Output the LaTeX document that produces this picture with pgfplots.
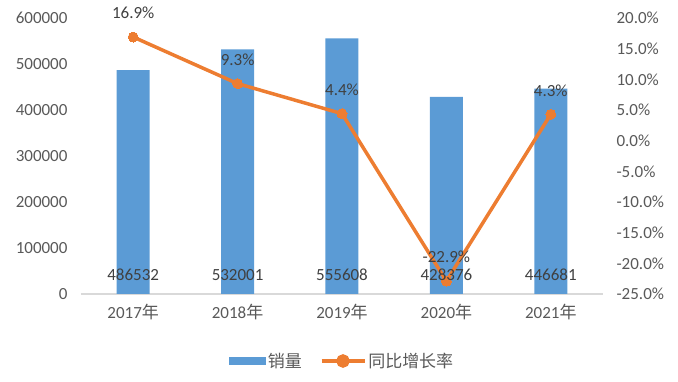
\documentclass[border=0pt]{standalone}
\usepackage{pgfplots}
\pgfplotsset{compat=1.18}
\usepackage{fontspec}
\setmainfont{Carlito}
\newfontfamily\cjk{Noto Sans CJK SC}
\definecolor{barblue}{HTML}{5B9BD5}
\definecolor{lineorange}{HTML}{ED7D31}
\definecolor{ticktext}{HTML}{595959}
\definecolor{labeltext}{HTML}{404040}
\definecolor{axisgray}{HTML}{D9D9D9}
\begin{document}
\begin{tikzpicture}
\useasboundingbox (0,0) rectangle (678pt,382pt);
\pgfplotsset{
  base/.style={
    at={(81pt,88pt)}, anchor=south west,
    scale only axis, width=522pt, height=276pt,
    xmin=-0.5, xmax=4.5,
    xtick=data,
    major tick length=0pt,
    /pgf/number format/assume math mode=true,
    tick label style={font=\fontsize{17}{20}\selectfont, text=ticktext},
  }
}
\begin{axis}[base,
  ymin=0, ymax=600000,
  ytick={0,100000,...,600000},
  scaled y ticks=false,
  yticklabel={\pgfmathprintnumber[fixed,1000 sep={}]{\tick}},
  yticklabel style={xshift=-10pt},
  xticklabels={2017{\cjk 年},2018{\cjk 年},2019{\cjk 年},2020{\cjk 年},2021{\cjk 年}},
  xticklabel style={anchor=center, yshift=-18pt},
  axis x line*=bottom, axis y line*=left,
  y axis line style={draw=none},
  x axis line style={draw=axisgray, line width=1.2pt, -},
]
\addplot[ybar, bar width=33pt, fill=barblue, draw=none] coordinates {
  (0,486532) (1,532001) (2,555608) (3,428376) (4,446681)};
\end{axis}
\begin{axis}[base,
  ymin=-25, ymax=20,
  ytick={-25,-20,...,20},
  yticklabel={\pgfmathprintnumber[fixed,fixed zerofill,precision=1]{\tick}\%},
  yticklabel style={xshift=10pt},
  axis y line*=right, axis x line=none,
  y axis line style={draw=none},
  xticklabels={},
  legend style={at={(0.5,-67pt)}, anchor=center, draw=none, fill=none,
    legend columns=2, font=\fontsize{17}{20}\selectfont\cjk, text=ticktext,
    /tikz/every even column/.append style={column sep=16pt}},
  legend cell align=left,
]
\addlegendimage{area legend, fill=barblue, draw=none,
  legend image code/.code={\fill[barblue] (0pt,-4pt) rectangle (37pt,4pt);}}
\addlegendentry{销量}
\addplot[lineorange, line width=3.5pt, mark=*, mark size=5pt,
  mark options={fill=lineorange, draw=lineorange, line width=0pt},
  nodes near coords, point meta=explicit symbolic,
  every node near coord/.append style={anchor=center, yshift=24pt, font=\fontsize{17}{20}\selectfont, text=labeltext},
  legend image code/.code={\draw[lineorange, line width=3.5pt] (0pt,0pt) -- (43pt,0pt);
    \fill[lineorange] (21.5pt,0pt) circle (5pt);}]
  coordinates {(0,16.9)[16.9\%] (1,9.3)[9.3\%] (2,4.4)[4.4\%] (3,-22.9)[-22.9\%] (4,4.3)[4.3\%]};
\addlegendentry{同比增长率}
\end{axis}
\begin{axis}[base,
  ymin=0, ymax=600000,
  hide axis,
]
\addplot[draw=none, mark=none, nodes near coords, point meta=explicit symbolic,
  every node near coord/.append style={anchor=center, font=\fontsize{17}{20}\selectfont, text=labeltext}]
  coordinates {(0,41000)[486532] (1,41000)[532001] (2,41000)[555608] (3,41000)[428376] (4,41000)[446681]};
\end{axis}
\end{tikzpicture}
\end{document}
